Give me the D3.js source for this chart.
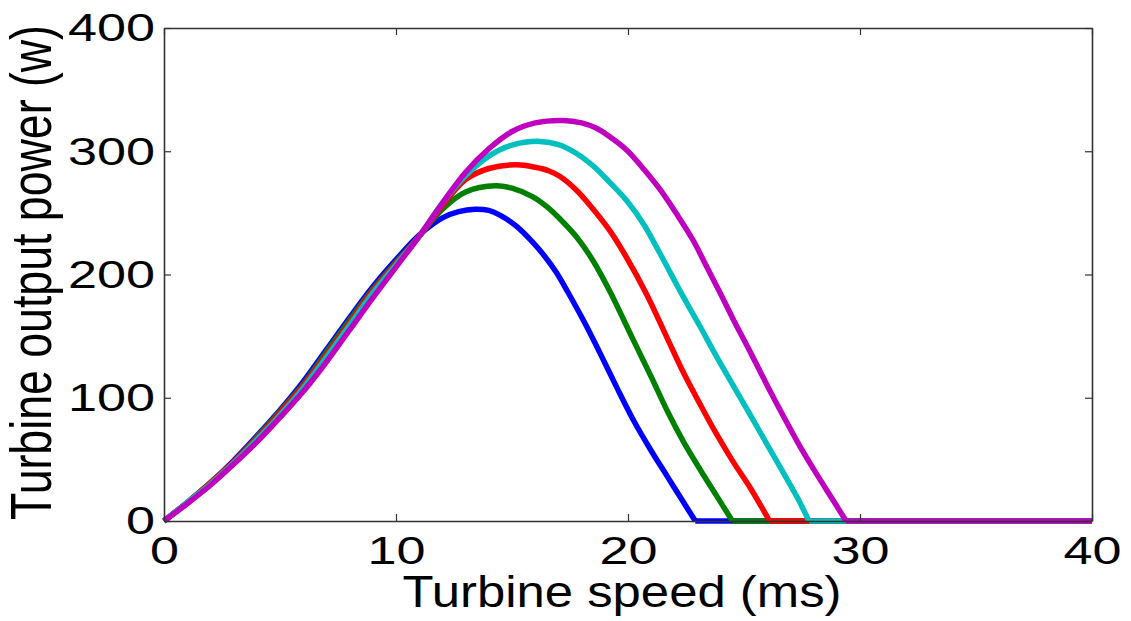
<!DOCTYPE html>
<html>
<head>
<meta charset="utf-8">
<script src="https://cdn.jsdelivr.net/npm/d3@7"></script>
<style>
  html, body { margin: 0; padding: 0; background: #fff; }
  svg { display: block; font-family: "Liberation Sans", Arial, sans-serif; }
</style>
</head>
<body>
<svg id="chart" width="1131" height="621"></svg>
<script>
// ---- data ----
const xTicks = [0, 10, 20, 30, 40];
const yTicks = [0, 100, 200, 300, 400];
const xLabel = "Turbine speed (ms)";
const yLabel = "Turbine output power (w)";

const blueX = [0,1,2,3,4,5,6,7,8,9,10,11,12,12.7,13.4,14,14.5,15.2,15.9,16.4,16.9,17.4,18.1,18.8,19.5,20.2,21,21.7,22.4,22.9,40];
const blueY = [0,15,31,49,69,90,113,139,165,190,212,232,246,251,253,252,248,239,226,215,202,186,162,136,109,83,57,36,15,0,0];

const greenX = [0,1,2,3,4,5,6,7,8,9,10,11,12,13,14.3,15,15.9,16.5,17.07,17.8,18.5,19.2,20.2,21,21.7,22.4,23.1,23.8,24.5,40];
const greenY = [0,15,31,48,68,89,111,137,163,188,210,231,253,267,272,270,263,255,245,230,211,187,148,117,89,64,42,21,0,0];

const redX = [0,1,2,3,4,5,6,7,8,9,10,11,12,13,14,15.2,16,16.6,17.07,17.8,18.5,19.2,19.9,20.8,21.7,22.4,23.1,23.8,24.5,25.3,26.1,40];
const redY = [0,15,31,48,67,88,110,135,161,187,209,231,256,277,286,289,287,284,279.5,268,253,236,215,184,148,120,95,71,49,26,0,0];

const cyanX = [0,1,2,3,4,5,6,7,8,9,10,11,12,13,14,15,16.2,17.07,17.8,18.5,19.2,19.94,20.7,21.38,22.38,23.1,23.8,24.5,25.3,26,26.7,27.3,27.8,40];
const cyanY = [0,15,30,47,66,86,108,133,159,185,208,231,258,280,296,305,308,305,298,288,275,260,240,217,182,158,134,111,85,62,39,19,0,0];

const magentaX = [0,1,2,3,4,5,6,7,8,9,10,11,12,13,14,15,16,17.2,18,18.6,19.2,19.94,20.7,21.38,22.1,22.8,23.4,24,24.5,25.3,26,26.7,27.4,28.1,28.8,29.4,40];
const magentaY = [0,14,29,46,64,84,105,129,155,181,206,231,258,283,302,316,323,325,323,319,312,301,285,269,249,228,206,184,165,136,110,85,61,39,18,0,0];

const seriesNames = ["blue", "green", "red", "cyan", "magenta"];
const seriesColors = ["#0000ff", "#008000", "#ff0000", "#00bfbf", "#bf00bf"];
const seriesXs = [blueX, greenX, redX, cyanX, magentaX];
const seriesYs = [blueY, greenY, redY, cyanY, magentaY];

// ---- layout ----
const svg = d3.select("#chart");
const mLeft = 164, mRight = 1092, mTop = 28, mBottom = 521;
const x = d3.scaleLinear().domain([0, 40]).range([mLeft, mRight]);
const y = d3.scaleLinear().domain([0, 400]).range([mBottom, mTop]);

svg.append("rect").attr("width", 1131).attr("height", 621).attr("fill", "#fff");

// curves: smooth part up to the cut-off point, then a straight zero run
const smooth = d3.line().x(d => x(d[0])).y(d => y(d[1])).curve(d3.curveCatmullRom.alpha(0.5));
const straight = d3.line().x(d => x(d[0])).y(d => y(d[1]));
seriesNames.forEach((name, i) => {
  const pts = seriesXs[i].map((v, k) => [v, seriesYs[i][k]]);
  let cut = pts.length - 1;
  for (let k = 1; k < pts.length; k++) { if (pts[k][1] === 0) { cut = k; break; } }
  const g = svg.append("g").attr("class", "series " + name);
  g.append("path")
    .attr("d", straight(pts.slice(cut)))
    .attr("fill", "none").attr("stroke", seriesColors[i]).attr("stroke-width", 5.5);
  g.append("path")
    .attr("d", smooth(pts.slice(0, cut + 1)))
    .attr("fill", "none")
    .attr("stroke", seriesColors[i])
    .attr("stroke-width", 5.5)
    .attr("stroke-linejoin", "round");
});

// axes (ticks inside, box)
const tickLen = 7;
const axisColor = "#333";
const fontSize = 38;
const digitW = 29;

const gB = svg.append("g").attr("transform", `translate(0,${mBottom})`)
  .call(d3.axisBottom(x).tickValues(xTicks).tickSize(-tickLen).tickSizeOuter(0).tickPadding(16).tickFormat(d3.format("d")));
const gT = svg.append("g").attr("transform", `translate(0,${mTop})`)
  .call(d3.axisTop(x).tickValues(xTicks).tickSize(-tickLen).tickSizeOuter(0).tickFormat(""));
const gL = svg.append("g").attr("transform", `translate(${mLeft},0)`)
  .call(d3.axisLeft(y).tickValues(yTicks).tickSize(-tickLen).tickSizeOuter(0).tickPadding(9).tickFormat(d3.format("d")));
const gR = svg.append("g").attr("transform", `translate(${mRight},0)`)
  .call(d3.axisRight(y).tickValues(yTicks).tickSize(-tickLen).tickSizeOuter(0).tickFormat(""));

[gB, gT, gL, gR].forEach(g => {
  g.select(".domain").attr("stroke", axisColor).attr("stroke-width", 1.6);
  g.selectAll(".tick line").attr("stroke", axisColor).attr("stroke-width", 1.2);
  g.selectAll(".tick text")
    .attr("fill", "#000")
    .style("font-size", fontSize + "px")
    .style("font-family", '"Liberation Sans", Arial, sans-serif');
});

gB.selectAll(".tick text")
  .attr("dy", "0.71em")
  .attr("textLength", d => String(d).length * digitW)
  .attr("lengthAdjust", "spacingAndGlyphs");
gL.selectAll(".tick text")
  .attr("dy", "0.34em")
  .attr("textLength", d => String(d).length * digitW)
  .attr("lengthAdjust", "spacingAndGlyphs");

// axis labels
svg.append("text")
  .attr("x", 622)
  .attr("y", 607)
  .attr("text-anchor", "middle")
  .style("font-size", "44px")
  .attr("textLength", 439)
  .attr("lengthAdjust", "spacingAndGlyphs")
  .attr("fill", "#000")
  .text(xLabel);

svg.append("text")
  .attr("transform", `translate(51,${(mTop + mBottom) / 2 - 2}) scale(1.3,1) rotate(-90)`)
  .attr("text-anchor", "middle")
  .style("font-size", "44px")
  .attr("textLength", 495)
  .attr("lengthAdjust", "spacingAndGlyphs")
  .attr("fill", "#000")
  .text(yLabel);
</script>
</body>
</html>
